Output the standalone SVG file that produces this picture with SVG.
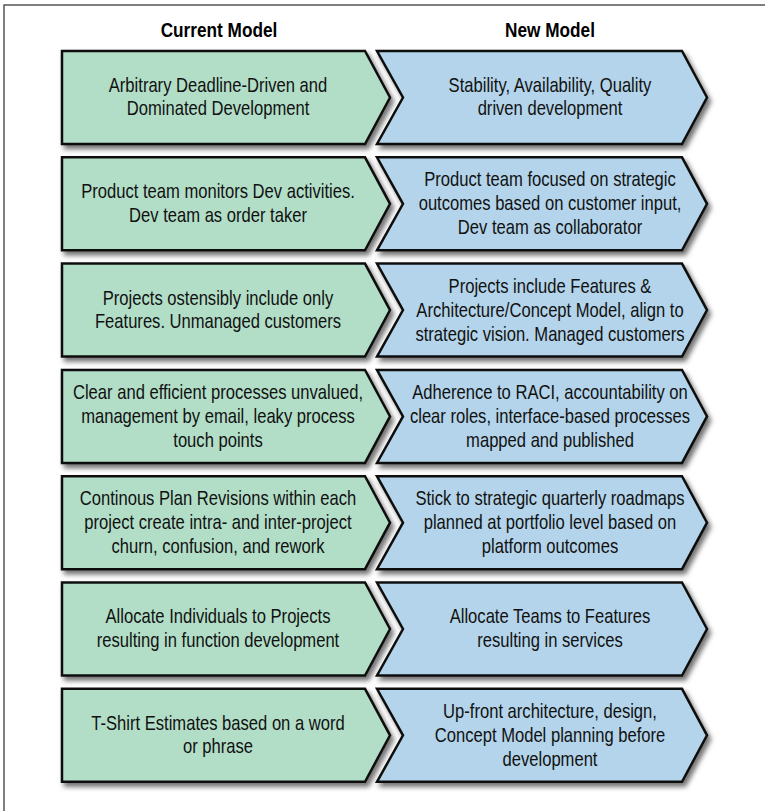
<svg xmlns="http://www.w3.org/2000/svg" width="765" height="811" viewBox="0 0 765 811">
  <defs>
    <filter id="shadow" x="-10%" y="-20%" width="130%" height="150%">
      <feDropShadow dx="3" dy="4" stdDeviation="2.5" flood-color="#000" flood-opacity="0.55"/>
    </filter>
    <!-- chevron outlines, drawn at origin; rows are translated -->
    <path id="chev-cur" d="M62,0 H365 L390,46.5 L365,93 H62 Z"/>
    <path id="chev-new" d="M377,0 H682 L707,46.5 L682,93 H377 L403,46.5 Z"/>
  </defs>
  <style>
    .cur { fill: #b2dec7; stroke: #111; stroke-width: 2.5; stroke-linejoin: miter; filter: url(#shadow); }
    .new { fill: #b3d4ea; stroke: #111; stroke-width: 2.5; stroke-linejoin: miter; filter: url(#shadow); }
    text { font-family: "Liberation Sans", Arial, sans-serif; font-size: 20px; fill: #111; text-anchor: middle; }
    .hdr { font-weight: bold; font-size: 20.5px; fill: #000; }
    .frame { fill: none; stroke: #555; stroke-width: 1.5; }
  </style>

  <rect width="765" height="811" fill="#fff"/>
  <path class="frame" d="M4,830 V5 H780"/>

  <g id="headers">
    <g transform="translate(219,0) scale(0.84,1)"><text class="hdr" x="0" y="37">Current Model</text></g>
    <g transform="translate(550,0) scale(0.84,1)"><text class="hdr" x="0" y="37">New Model</text></g>
  </g>

  <g id="row1" transform="translate(0,51)">
    <g id="cur1"><use href="#chev-cur" class="cur"/>
      <g transform="translate(218,0) scale(0.83,1)">
        <text x="0" y="41">Arbitrary Deadline-Driven and</text>
        <text x="0" y="64.5">Dominated Development</text></g></g>
    <g id="new1"><use href="#chev-new" class="new"/>
      <g transform="translate(550,0) scale(0.83,1)">
        <text x="0" y="41">Stability, Availability, Quality</text>
        <text x="0" y="64.5">driven development</text></g></g>
  </g>

  <g id="row2" transform="translate(0,157.3)">
    <g id="cur2"><use href="#chev-cur" class="cur"/>
      <g transform="translate(218,0) scale(0.83,1)">
        <text x="0" y="41">Product team monitors Dev activities.</text>
        <text x="0" y="64.5">Dev team as order taker</text></g></g>
    <g id="new2"><use href="#chev-new" class="new"/>
      <g transform="translate(550,0) scale(0.83,1)">
        <text x="0" y="29">Product team focused on strategic</text>
        <text x="0" y="53">outcomes based on customer input,</text>
        <text x="0" y="77">Dev team as collaborator</text></g></g>
  </g>

  <g id="row3" transform="translate(0,263.6)">
    <g id="cur3"><use href="#chev-cur" class="cur"/>
      <g transform="translate(218,0) scale(0.83,1)">
        <text x="0" y="41">Projects ostensibly include only</text>
        <text x="0" y="64.5">Features. Unmanaged customers</text></g></g>
    <g id="new3"><use href="#chev-new" class="new"/>
      <g transform="translate(550,0) scale(0.83,1)">
        <text x="0" y="29">Projects include Features &amp;</text>
        <text x="0" y="53">Architecture/Concept Model, align to</text>
        <text x="0" y="77">strategic vision. Managed customers</text></g></g>
  </g>

  <g id="row4" transform="translate(0,369.9)">
    <g id="cur4"><use href="#chev-cur" class="cur"/>
      <g transform="translate(218,0) scale(0.83,1)">
        <text x="0" y="29">Clear and efficient processes unvalued,</text>
        <text x="0" y="53">management by email, leaky process</text>
        <text x="0" y="77">touch points</text></g></g>
    <g id="new4"><use href="#chev-new" class="new"/>
      <g transform="translate(550,0) scale(0.83,1)">
        <text x="0" y="29">Adherence to RACI, accountability on</text>
        <text x="0" y="53">clear roles, interface-based processes</text>
        <text x="0" y="77">mapped and published</text></g></g>
  </g>

  <g id="row5" transform="translate(0,476.2)">
    <g id="cur5"><use href="#chev-cur" class="cur"/>
      <g transform="translate(218,0) scale(0.83,1)">
        <text x="0" y="29">Continous Plan Revisions within each</text>
        <text x="0" y="53">project create intra- and inter-project</text>
        <text x="0" y="77">churn, confusion, and rework</text></g></g>
    <g id="new5"><use href="#chev-new" class="new"/>
      <g transform="translate(550,0) scale(0.83,1)">
        <text x="0" y="29">Stick to strategic quarterly roadmaps</text>
        <text x="0" y="53">planned at portfolio level based on</text>
        <text x="0" y="77">platform outcomes</text></g></g>
  </g>

  <g id="row6" transform="translate(0,582.5)">
    <g id="cur6"><use href="#chev-cur" class="cur"/>
      <g transform="translate(218,0) scale(0.83,1)">
        <text x="0" y="41">Allocate Individuals to Projects</text>
        <text x="0" y="64.5">resulting in function development</text></g></g>
    <g id="new6"><use href="#chev-new" class="new"/>
      <g transform="translate(550,0) scale(0.83,1)">
        <text x="0" y="41">Allocate Teams to Features</text>
        <text x="0" y="64.5">resulting in services</text></g></g>
  </g>

  <g id="row7" transform="translate(0,688.8)">
    <g id="cur7"><use href="#chev-cur" class="cur"/>
      <g transform="translate(218,0) scale(0.83,1)">
        <text x="0" y="41">T-Shirt Estimates based on a word</text>
        <text x="0" y="64.5">or phrase</text></g></g>
    <g id="new7"><use href="#chev-new" class="new"/>
      <g transform="translate(550,0) scale(0.83,1)">
        <text x="0" y="29">Up-front architecture, design,</text>
        <text x="0" y="53">Concept Model planning before</text>
        <text x="0" y="77">development</text></g></g>
  </g>
</svg>
